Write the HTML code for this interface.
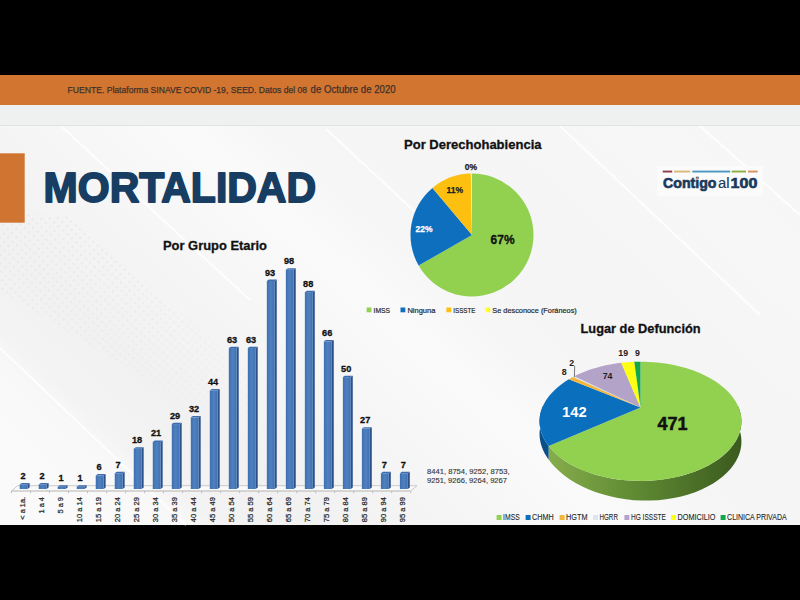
<!DOCTYPE html><html><head><meta charset="utf-8"><style>html,body{margin:0;padding:0;background:#000;width:800px;height:600px;overflow:hidden}</style></head><body><svg width="800" height="600" viewBox="0 0 800 600" style="display:block;font-family:'Liberation Sans', sans-serif">
<defs>
<linearGradient id="bg" x1="0" y1="0" x2="1" y2="1">
 <stop offset="0" stop-color="#f4f4f4"/><stop offset="1" stop-color="#f2f2f2"/>
</linearGradient>
<linearGradient id="barg" x1="0" y1="0" x2="1" y2="0">
 <stop offset="0" stop-color="#3f6fae"/><stop offset="0.5" stop-color="#4f81c0"/><stop offset="1" stop-color="#3f70b0"/>
</linearGradient>
<linearGradient id="gside" x1="0" y1="0" x2="1" y2="0">
 <stop offset="0" stop-color="#86ad4c"/><stop offset="0.45" stop-color="#5f8a33"/><stop offset="1" stop-color="#3b5a1f"/>
</linearGradient>
</defs>
<rect x="0" y="0" width="800" height="600" fill="#000"/>
<defs><linearGradient id="bgg" gradientUnits="userSpaceOnUse" x1="397.8" y1="-442.0" x2="-298.3" y2="331.5"><stop offset="0.000" stop-color="#f4f4f4"/><stop offset="0.262" stop-color="#f7f7f7"/><stop offset="0.393" stop-color="#f5f5f5"/><stop offset="0.486" stop-color="#f6f6f6"/><stop offset="0.545" stop-color="#fafafa"/><stop offset="0.657" stop-color="#f5f5f5"/><stop offset="0.743" stop-color="#f1f1f1"/><stop offset="0.807" stop-color="#f3f3f3"/><stop offset="0.829" stop-color="#f8f8f8"/><stop offset="0.893" stop-color="#fafafa"/><stop offset="1.000" stop-color="#fafafa"/></linearGradient><pattern id="dots" width="6" height="6" patternUnits="userSpaceOnUse" patternTransform="rotate(42)"><circle cx="3" cy="3" r="1.3" fill="#e4e4e4"/></pattern><linearGradient id="dfade" gradientUnits="userSpaceOnUse" x1="0" y1="230" x2="260" y2="470"><stop offset="0" stop-color="#fff" stop-opacity="0.6"/><stop offset="0.5" stop-color="#fff" stop-opacity="0.4"/><stop offset="1" stop-color="#fff" stop-opacity="0"/></linearGradient><mask id="dm"><rect x="0" y="0" width="800" height="600" fill="url(#dfade)"/></mask></defs>
<rect x="0" y="75" width="800" height="450" fill="url(#bgg)"/>
<polygon points="0,215 70,215 280,400 230,430 0,290" fill="url(#dots)" mask="url(#dm)"/>
<g stroke="#ffffff" stroke-width="2" opacity="0.85">
<line x1="62" y1="127" x2="250" y2="300"/>
<line x1="0" y1="348" x2="186" y2="525"/>
<line x1="560" y1="126" x2="760" y2="315"/>
<line x1="326" y1="129" x2="470" y2="263"/>
<line x1="700" y1="126" x2="800" y2="215"/>
</g>
<rect x="0" y="75" width="800" height="30" fill="#d27531"/>
<rect x="0" y="105" width="800" height="20" fill="#eff1f1"/>
<rect x="0" y="125" width="800" height="1" fill="#e2e3e3"/>
<text x="67.5" y="93" font-size="9.5" fill="#3e3129" font-weight="normal" text-anchor="start" textLength="239.6" lengthAdjust="spacingAndGlyphs" stroke="#3e3129" stroke-width="0.25">FUENTE. Plataforma SINAVE COVID -19, SEED. Datos del 08</text>
<text x="310.6" y="93" font-size="10.4" fill="#3e3129" font-weight="normal" text-anchor="start" textLength="85" lengthAdjust="spacingAndGlyphs" stroke="#3e3129" stroke-width="0.25">de Octubre de 2020</text>
<rect x="0" y="153.3" width="24.7" height="69.4" fill="#d07531"/>
<text x="43.6" y="202.4" font-size="43.2" fill="#173d63" font-weight="bold" text-anchor="start" textLength="272.5" lengthAdjust="spacingAndGlyphs" stroke="#173d63" stroke-width="1.8" stroke-linejoin="round">MORTALIDAD</text>
<text x="163" y="249.6" font-size="13.5" fill="#111" font-weight="bold" text-anchor="start" textLength="104" lengthAdjust="spacingAndGlyphs" stroke="#111" stroke-width="0.3">Por Grupo Etario</text>
<polygon points="11.5,491 17.5,485.7 417,485.7 410.5,491" fill="#f9f9f9"/>
<line x1="17.5" y1="485.7" x2="417" y2="485.7" stroke="#c4c4c4" stroke-width="0.9"/>
<line x1="11.5" y1="491" x2="17.5" y2="485.7" stroke="#c4c4c4" stroke-width="0.9"/>
<line x1="410.5" y1="491" x2="417" y2="485.7" stroke="#c4c4c4" stroke-width="0.9"/>
<line x1="11.5" y1="491" x2="410.5" y2="491" stroke="#b4b4b4" stroke-width="1.1"/>
<line x1="11.5" y1="491" x2="11.5" y2="493.3" stroke="#b4b4b4" stroke-width="0.8"/>
<line x1="30.5" y1="491" x2="30.5" y2="493.3" stroke="#b4b4b4" stroke-width="0.8"/>
<line x1="49.5" y1="491" x2="49.5" y2="493.3" stroke="#b4b4b4" stroke-width="0.8"/>
<line x1="68.5" y1="491" x2="68.5" y2="493.3" stroke="#b4b4b4" stroke-width="0.8"/>
<line x1="87.5" y1="491" x2="87.5" y2="493.3" stroke="#b4b4b4" stroke-width="0.8"/>
<line x1="106.6" y1="491" x2="106.6" y2="493.3" stroke="#b4b4b4" stroke-width="0.8"/>
<line x1="125.6" y1="491" x2="125.6" y2="493.3" stroke="#b4b4b4" stroke-width="0.8"/>
<line x1="144.6" y1="491" x2="144.6" y2="493.3" stroke="#b4b4b4" stroke-width="0.8"/>
<line x1="163.6" y1="491" x2="163.6" y2="493.3" stroke="#b4b4b4" stroke-width="0.8"/>
<line x1="182.6" y1="491" x2="182.6" y2="493.3" stroke="#b4b4b4" stroke-width="0.8"/>
<line x1="201.6" y1="491" x2="201.6" y2="493.3" stroke="#b4b4b4" stroke-width="0.8"/>
<line x1="220.6" y1="491" x2="220.6" y2="493.3" stroke="#b4b4b4" stroke-width="0.8"/>
<line x1="239.6" y1="491" x2="239.6" y2="493.3" stroke="#b4b4b4" stroke-width="0.8"/>
<line x1="258.6" y1="491" x2="258.6" y2="493.3" stroke="#b4b4b4" stroke-width="0.8"/>
<line x1="277.6" y1="491" x2="277.6" y2="493.3" stroke="#b4b4b4" stroke-width="0.8"/>
<line x1="296.7" y1="491" x2="296.7" y2="493.3" stroke="#b4b4b4" stroke-width="0.8"/>
<line x1="315.7" y1="491" x2="315.7" y2="493.3" stroke="#b4b4b4" stroke-width="0.8"/>
<line x1="334.7" y1="491" x2="334.7" y2="493.3" stroke="#b4b4b4" stroke-width="0.8"/>
<line x1="353.7" y1="491" x2="353.7" y2="493.3" stroke="#b4b4b4" stroke-width="0.8"/>
<line x1="372.7" y1="491" x2="372.7" y2="493.3" stroke="#b4b4b4" stroke-width="0.8"/>
<line x1="391.7" y1="491" x2="391.7" y2="493.3" stroke="#b4b4b4" stroke-width="0.8"/>
<line x1="410.7" y1="491" x2="410.7" y2="493.3" stroke="#b4b4b4" stroke-width="0.8"/>
<polygon points="27.60,484.43 29.60,483.03 29.60,487.60 27.60,489.00" fill="#2b5188"/>
<polygon points="19.70,484.43 21.70,483.03 29.60,483.03 27.60,484.43" fill="#3e6cae"/>
<rect x="19.70" y="484.43" width="7.9" height="4.57" fill="url(#barg)"/>
<text x="23.0" y="478.9" font-size="9.2" fill="#111" font-weight="bold" text-anchor="middle" stroke="#111" stroke-width="0.3">2</text>
<text transform="translate(24.8,497) rotate(-90)" font-size="8" fill="#2a2a2a" text-anchor="end" stroke="#2a2a2a" stroke-width="0.25" textLength="22.7" lengthAdjust="spacingAndGlyphs">&lt; a 1a.</text>
<polygon points="46.61,484.43 48.61,483.03 48.61,487.60 46.61,489.00" fill="#2b5188"/>
<polygon points="38.71,484.43 40.71,483.03 48.61,483.03 46.61,484.43" fill="#3e6cae"/>
<rect x="38.71" y="484.43" width="7.9" height="4.57" fill="url(#barg)"/>
<text x="42.0" y="478.9" font-size="9.2" fill="#111" font-weight="bold" text-anchor="middle" stroke="#111" stroke-width="0.3">2</text>
<text transform="translate(43.8,497) rotate(-90)" font-size="8" fill="#2a2a2a" text-anchor="end" stroke="#2a2a2a" stroke-width="0.25" textLength="16.5" lengthAdjust="spacingAndGlyphs">1 a 4</text>
<polygon points="65.62,486.66 67.62,485.26 67.62,487.60 65.62,489.00" fill="#2b5188"/>
<polygon points="57.72,486.66 59.72,485.26 67.62,485.26 65.62,486.66" fill="#3e6cae"/>
<rect x="57.72" y="486.66" width="7.9" height="2.34" fill="url(#barg)"/>
<text x="61.0" y="481.2" font-size="9.2" fill="#111" font-weight="bold" text-anchor="middle" stroke="#111" stroke-width="0.3">1</text>
<text transform="translate(62.8,497) rotate(-90)" font-size="8" fill="#2a2a2a" text-anchor="end" stroke="#2a2a2a" stroke-width="0.25" textLength="16.5" lengthAdjust="spacingAndGlyphs">5 a 9</text>
<polygon points="84.63,486.66 86.63,485.26 86.63,487.60 84.63,489.00" fill="#2b5188"/>
<polygon points="76.73,486.66 78.73,485.26 86.63,485.26 84.63,486.66" fill="#3e6cae"/>
<rect x="76.73" y="486.66" width="7.9" height="2.34" fill="url(#barg)"/>
<text x="80.0" y="481.2" font-size="9.2" fill="#111" font-weight="bold" text-anchor="middle" stroke="#111" stroke-width="0.3">1</text>
<text transform="translate(81.8,497) rotate(-90)" font-size="8" fill="#2a2a2a" text-anchor="end" stroke="#2a2a2a" stroke-width="0.25" textLength="25.2" lengthAdjust="spacingAndGlyphs">10 a 14</text>
<polygon points="103.64,475.48 105.64,474.08 105.64,487.60 103.64,489.00" fill="#2b5188"/>
<polygon points="95.74,475.48 97.74,474.08 105.64,474.08 103.64,475.48" fill="#3e6cae"/>
<rect x="95.74" y="475.48" width="7.9" height="13.52" fill="url(#barg)"/>
<text x="99.0" y="470.0" font-size="9.2" fill="#111" font-weight="bold" text-anchor="middle" stroke="#111" stroke-width="0.3">6</text>
<text transform="translate(100.8,497) rotate(-90)" font-size="8" fill="#2a2a2a" text-anchor="end" stroke="#2a2a2a" stroke-width="0.25" textLength="25.2" lengthAdjust="spacingAndGlyphs">15 a 19</text>
<polygon points="122.65,473.25 124.65,471.85 124.65,487.60 122.65,489.00" fill="#2b5188"/>
<polygon points="114.75,473.25 116.75,471.85 124.65,471.85 122.65,473.25" fill="#3e6cae"/>
<rect x="114.75" y="473.25" width="7.9" height="15.75" fill="url(#barg)"/>
<text x="118.1" y="467.7" font-size="9.2" fill="#111" font-weight="bold" text-anchor="middle" stroke="#111" stroke-width="0.3">7</text>
<text transform="translate(119.8,497) rotate(-90)" font-size="8" fill="#2a2a2a" text-anchor="end" stroke="#2a2a2a" stroke-width="0.25" textLength="25.2" lengthAdjust="spacingAndGlyphs">20 a 24</text>
<polygon points="141.66,448.65 143.66,447.25 143.66,487.60 141.66,489.00" fill="#2b5188"/>
<polygon points="133.76,448.65 135.76,447.25 143.66,447.25 141.66,448.65" fill="#3e6cae"/>
<rect x="133.76" y="448.65" width="7.9" height="40.35" fill="url(#barg)"/>
<text x="137.1" y="443.2" font-size="9.2" fill="#111" font-weight="bold" text-anchor="middle" stroke="#111" stroke-width="0.3">18</text>
<text transform="translate(138.8,497) rotate(-90)" font-size="8" fill="#2a2a2a" text-anchor="end" stroke="#2a2a2a" stroke-width="0.25" textLength="25.2" lengthAdjust="spacingAndGlyphs">25 a 29</text>
<polygon points="160.67,441.94 162.67,440.54 162.67,487.60 160.67,489.00" fill="#2b5188"/>
<polygon points="152.77,441.94 154.77,440.54 162.67,440.54 160.67,441.94" fill="#3e6cae"/>
<rect x="152.77" y="441.94" width="7.9" height="47.06" fill="url(#barg)"/>
<text x="156.1" y="436.4" font-size="9.2" fill="#111" font-weight="bold" text-anchor="middle" stroke="#111" stroke-width="0.3">21</text>
<text transform="translate(157.8,497) rotate(-90)" font-size="8" fill="#2a2a2a" text-anchor="end" stroke="#2a2a2a" stroke-width="0.25" textLength="25.2" lengthAdjust="spacingAndGlyphs">30 a 34</text>
<polygon points="179.68,424.06 181.68,422.66 181.68,487.60 179.68,489.00" fill="#2b5188"/>
<polygon points="171.78,424.06 173.78,422.66 181.68,422.66 179.68,424.06" fill="#3e6cae"/>
<rect x="171.78" y="424.06" width="7.9" height="64.94" fill="url(#barg)"/>
<text x="175.1" y="418.6" font-size="9.2" fill="#111" font-weight="bold" text-anchor="middle" stroke="#111" stroke-width="0.3">29</text>
<text transform="translate(176.8,497) rotate(-90)" font-size="8" fill="#2a2a2a" text-anchor="end" stroke="#2a2a2a" stroke-width="0.25" textLength="25.2" lengthAdjust="spacingAndGlyphs">35 a 39</text>
<polygon points="198.69,417.35 200.69,415.95 200.69,487.60 198.69,489.00" fill="#2b5188"/>
<polygon points="190.79,417.35 192.79,415.95 200.69,415.95 198.69,417.35" fill="#3e6cae"/>
<rect x="190.79" y="417.35" width="7.9" height="71.65" fill="url(#barg)"/>
<text x="194.1" y="411.8" font-size="9.2" fill="#111" font-weight="bold" text-anchor="middle" stroke="#111" stroke-width="0.3">32</text>
<text transform="translate(195.8,497) rotate(-90)" font-size="8" fill="#2a2a2a" text-anchor="end" stroke="#2a2a2a" stroke-width="0.25" textLength="25.2" lengthAdjust="spacingAndGlyphs">40 a 44</text>
<polygon points="217.70,390.52 219.70,389.12 219.70,487.60 217.70,489.00" fill="#2b5188"/>
<polygon points="209.80,390.52 211.80,389.12 219.70,389.12 217.70,390.52" fill="#3e6cae"/>
<rect x="209.80" y="390.52" width="7.9" height="98.48" fill="url(#barg)"/>
<text x="213.1" y="385.0" font-size="9.2" fill="#111" font-weight="bold" text-anchor="middle" stroke="#111" stroke-width="0.3">44</text>
<text transform="translate(214.9,497) rotate(-90)" font-size="8" fill="#2a2a2a" text-anchor="end" stroke="#2a2a2a" stroke-width="0.25" textLength="25.2" lengthAdjust="spacingAndGlyphs">45 a 49</text>
<polygon points="236.71,348.03 238.71,346.63 238.71,487.60 236.71,489.00" fill="#2b5188"/>
<polygon points="228.81,348.03 230.81,346.63 238.71,346.63 236.71,348.03" fill="#3e6cae"/>
<rect x="228.81" y="348.03" width="7.9" height="140.97" fill="url(#barg)"/>
<text x="232.1" y="342.5" font-size="9.2" fill="#111" font-weight="bold" text-anchor="middle" stroke="#111" stroke-width="0.3">63</text>
<text transform="translate(233.9,497) rotate(-90)" font-size="8" fill="#2a2a2a" text-anchor="end" stroke="#2a2a2a" stroke-width="0.25" textLength="25.2" lengthAdjust="spacingAndGlyphs">50 a 54</text>
<polygon points="255.72,348.03 257.72,346.63 257.72,487.60 255.72,489.00" fill="#2b5188"/>
<polygon points="247.82,348.03 249.82,346.63 257.72,346.63 255.72,348.03" fill="#3e6cae"/>
<rect x="247.82" y="348.03" width="7.9" height="140.97" fill="url(#barg)"/>
<text x="251.1" y="342.5" font-size="9.2" fill="#111" font-weight="bold" text-anchor="middle" stroke="#111" stroke-width="0.3">63</text>
<text transform="translate(252.9,497) rotate(-90)" font-size="8" fill="#2a2a2a" text-anchor="end" stroke="#2a2a2a" stroke-width="0.25" textLength="25.2" lengthAdjust="spacingAndGlyphs">55 a 59</text>
<polygon points="274.73,280.95 276.73,279.55 276.73,487.60 274.73,489.00" fill="#2b5188"/>
<polygon points="266.83,280.95 268.83,279.55 276.73,279.55 274.73,280.95" fill="#3e6cae"/>
<rect x="266.83" y="280.95" width="7.9" height="208.05" fill="url(#barg)"/>
<text x="270.1" y="275.5" font-size="9.2" fill="#111" font-weight="bold" text-anchor="middle" stroke="#111" stroke-width="0.3">93</text>
<text transform="translate(271.9,497) rotate(-90)" font-size="8" fill="#2a2a2a" text-anchor="end" stroke="#2a2a2a" stroke-width="0.25" textLength="25.2" lengthAdjust="spacingAndGlyphs">60 a 64</text>
<polygon points="293.74,269.77 295.74,268.37 295.74,487.60 293.74,489.00" fill="#2b5188"/>
<polygon points="285.84,269.77 287.84,268.37 295.74,268.37 293.74,269.77" fill="#3e6cae"/>
<rect x="285.84" y="269.77" width="7.9" height="219.23" fill="url(#barg)"/>
<text x="289.1" y="264.3" font-size="9.2" fill="#111" font-weight="bold" text-anchor="middle" stroke="#111" stroke-width="0.3">98</text>
<text transform="translate(290.9,497) rotate(-90)" font-size="8" fill="#2a2a2a" text-anchor="end" stroke="#2a2a2a" stroke-width="0.25" textLength="25.2" lengthAdjust="spacingAndGlyphs">65 a 69</text>
<polygon points="312.75,292.13 314.75,290.73 314.75,487.60 312.75,489.00" fill="#2b5188"/>
<polygon points="304.85,292.13 306.85,290.73 314.75,290.73 312.75,292.13" fill="#3e6cae"/>
<rect x="304.85" y="292.13" width="7.9" height="196.87" fill="url(#barg)"/>
<text x="308.2" y="286.6" font-size="9.2" fill="#111" font-weight="bold" text-anchor="middle" stroke="#111" stroke-width="0.3">88</text>
<text transform="translate(309.9,497) rotate(-90)" font-size="8" fill="#2a2a2a" text-anchor="end" stroke="#2a2a2a" stroke-width="0.25" textLength="25.2" lengthAdjust="spacingAndGlyphs">70 a 74</text>
<polygon points="331.76,341.32 333.76,339.92 333.76,487.60 331.76,489.00" fill="#2b5188"/>
<polygon points="323.86,341.32 325.86,339.92 333.76,339.92 331.76,341.32" fill="#3e6cae"/>
<rect x="323.86" y="341.32" width="7.9" height="147.68" fill="url(#barg)"/>
<text x="327.2" y="335.8" font-size="9.2" fill="#111" font-weight="bold" text-anchor="middle" stroke="#111" stroke-width="0.3">66</text>
<text transform="translate(328.9,497) rotate(-90)" font-size="8" fill="#2a2a2a" text-anchor="end" stroke="#2a2a2a" stroke-width="0.25" textLength="25.2" lengthAdjust="spacingAndGlyphs">75 a 79</text>
<polygon points="350.77,377.10 352.77,375.70 352.77,487.60 350.77,489.00" fill="#2b5188"/>
<polygon points="342.87,377.10 344.87,375.70 352.77,375.70 350.77,377.10" fill="#3e6cae"/>
<rect x="342.87" y="377.10" width="7.9" height="111.90" fill="url(#barg)"/>
<text x="346.2" y="371.6" font-size="9.2" fill="#111" font-weight="bold" text-anchor="middle" stroke="#111" stroke-width="0.3">50</text>
<text transform="translate(347.9,497) rotate(-90)" font-size="8" fill="#2a2a2a" text-anchor="end" stroke="#2a2a2a" stroke-width="0.25" textLength="25.2" lengthAdjust="spacingAndGlyphs">80 a 84</text>
<polygon points="369.78,428.53 371.78,427.13 371.78,487.60 369.78,489.00" fill="#2b5188"/>
<polygon points="361.88,428.53 363.88,427.13 371.78,427.13 369.78,428.53" fill="#3e6cae"/>
<rect x="361.88" y="428.53" width="7.9" height="60.47" fill="url(#barg)"/>
<text x="365.2" y="423.0" font-size="9.2" fill="#111" font-weight="bold" text-anchor="middle" stroke="#111" stroke-width="0.3">27</text>
<text transform="translate(366.9,497) rotate(-90)" font-size="8" fill="#2a2a2a" text-anchor="end" stroke="#2a2a2a" stroke-width="0.25" textLength="25.2" lengthAdjust="spacingAndGlyphs">85 a 89</text>
<polygon points="388.79,473.25 390.79,471.85 390.79,487.60 388.79,489.00" fill="#2b5188"/>
<polygon points="380.89,473.25 382.89,471.85 390.79,471.85 388.79,473.25" fill="#3e6cae"/>
<rect x="380.89" y="473.25" width="7.9" height="15.75" fill="url(#barg)"/>
<text x="384.2" y="467.7" font-size="9.2" fill="#111" font-weight="bold" text-anchor="middle" stroke="#111" stroke-width="0.3">7</text>
<text transform="translate(385.9,497) rotate(-90)" font-size="8" fill="#2a2a2a" text-anchor="end" stroke="#2a2a2a" stroke-width="0.25" textLength="25.2" lengthAdjust="spacingAndGlyphs">90 a 94</text>
<polygon points="407.80,473.25 409.80,471.85 409.80,487.60 407.80,489.00" fill="#2b5188"/>
<polygon points="399.90,473.25 401.90,471.85 409.80,471.85 407.80,473.25" fill="#3e6cae"/>
<rect x="399.90" y="473.25" width="7.9" height="15.75" fill="url(#barg)"/>
<text x="403.2" y="467.7" font-size="9.2" fill="#111" font-weight="bold" text-anchor="middle" stroke="#111" stroke-width="0.3">7</text>
<text transform="translate(405.0,497) rotate(-90)" font-size="8" fill="#2a2a2a" text-anchor="end" stroke="#2a2a2a" stroke-width="0.25" textLength="25.2" lengthAdjust="spacingAndGlyphs">95 a 99</text>
<text x="427" y="473.7" font-size="8" fill="#3a3a3a" font-weight="normal" text-anchor="start" textLength="82.5" lengthAdjust="spacingAndGlyphs" stroke="#3a3a3a" stroke-width="0.15">8441, 8754, 9252, 8753,</text>
<text x="427" y="483" font-size="8" fill="#3a3a3a" font-weight="normal" text-anchor="start" textLength="80" lengthAdjust="spacingAndGlyphs" stroke="#3a3a3a" stroke-width="0.15">9251, 9266, 9264, 9267</text>
<text x="404" y="149" font-size="13.5" fill="#111" font-weight="bold" text-anchor="start" textLength="137.5" lengthAdjust="spacingAndGlyphs" stroke="#111" stroke-width="0.3">Por Derechohabiencia</text>
<path d="M472,235 L472.00,173.50 A61.5,61.5 0 1 1 418.63,265.56 Z" fill="#92d050"/>
<path d="M472,235 L418.63,265.56 A61.5,61.5 0 0 1 432.47,187.89 Z" fill="#0d6fbe"/>
<path d="M472,235 L432.47,187.89 A61.5,61.5 0 0 1 470.82,173.51 Z" fill="#fdbf10"/>
<path d="M472,235 L470.82,173.51 A61.5,61.5 0 0 1 472.00,173.50 Z" fill="#ffff30"/>
<text x="471" y="170" font-size="8.5" fill="#222" font-weight="bold" text-anchor="middle" stroke="#222" stroke-width="0.25">0%</text>
<text x="454.7" y="192.7" font-size="8.5" fill="#222" font-weight="bold" text-anchor="middle" stroke="#222" stroke-width="0.25">11%</text>
<text x="424" y="231.7" font-size="8.5" fill="#fff" font-weight="bold" text-anchor="middle" stroke="#fff" stroke-width="0.25">22%</text>
<text x="502.6" y="244.3" font-size="12" fill="#111" font-weight="bold" text-anchor="middle" stroke="#111" stroke-width="0.3">67%</text>
<rect x="366.6" y="307.5" width="4.8" height="4.8" fill="#92d050"/>
<text x="373.5" y="312.5" font-size="7.8" fill="#262626" font-weight="normal" text-anchor="start" textLength="16.5" lengthAdjust="spacingAndGlyphs" stroke="#262626" stroke-width="0.2">IMSS</text>
<rect x="400.5" y="307.5" width="4.8" height="4.8" fill="#0d6fbe"/>
<text x="407.4" y="312.5" font-size="7.8" fill="#262626" font-weight="normal" text-anchor="start" textLength="28" lengthAdjust="spacingAndGlyphs" stroke="#262626" stroke-width="0.2">Ninguna</text>
<rect x="446.4" y="307.5" width="4.8" height="4.8" fill="#fdbf10"/>
<text x="453.29999999999995" y="312.5" font-size="7.8" fill="#262626" font-weight="normal" text-anchor="start" textLength="22" lengthAdjust="spacingAndGlyphs" stroke="#262626" stroke-width="0.2">ISSSTE</text>
<rect x="485.4" y="307.5" width="4.8" height="4.8" fill="#ffff30"/>
<text x="492.29999999999995" y="312.5" font-size="7.8" fill="#262626" font-weight="normal" text-anchor="start" textLength="84.5" lengthAdjust="spacingAndGlyphs" stroke="#262626" stroke-width="0.2">Se desconoce (Foráneos)</text>
<rect x="657" y="166" width="106" height="30" fill="#fbfbfb"/>
<rect x="662.7" y="170.6" width="9.5" height="1.9" fill="#8f3d4e"/>
<rect x="674" y="170.6" width="16.2" height="1.9" fill="#dcba78"/>
<rect x="692.3" y="170.6" width="37.9" height="1.9" fill="#4d98c0"/>
<rect x="731.7" y="170.6" width="14.3" height="1.9" fill="#8fb040"/>
<rect x="748" y="170.6" width="9.7" height="1.9" fill="#d9905a"/>
<text x="663" y="188.4" font-size="15.4" fill="#1a3a5c" font-weight="bold" text-anchor="start" textLength="53.5" lengthAdjust="spacingAndGlyphs" stroke="#1a3a5c" stroke-width="0.7">Contigo</text>
<text x="718" y="188.4" font-size="15.4" fill="#1a3a5c" font-weight="normal" text-anchor="start" textLength="11.5" lengthAdjust="spacingAndGlyphs" stroke="#1a3a5c" stroke-width="0.2">al</text>
<circle cx="697.3" cy="178.4" r="1.2" fill="#d98a50"/>
<text x="730.6" y="188.4" font-size="15.4" fill="#1a3a5c" font-weight="bold" text-anchor="start" textLength="26.8" lengthAdjust="spacingAndGlyphs" stroke="#1a3a5c" stroke-width="0.7">100</text>
<text x="580.5" y="332.7" font-size="13.5" fill="#111" font-weight="bold" text-anchor="start" textLength="120.2" lengthAdjust="spacingAndGlyphs" stroke="#111" stroke-width="0.3">Lugar de Defunción</text>
<polygon points="738.04,405.95 739.46,409.54 740.52,413.22 741.19,417.00 741.45,420.84 741.29,424.75 740.68,428.71 739.60,432.69 738.05,436.67 736.01,440.65 733.46,444.58 730.40,448.45 726.83,452.23 722.75,455.89 718.17,459.41 713.09,462.75 707.54,465.90 701.54,468.81 695.12,471.46 688.31,473.83 681.16,475.89 673.71,477.62 666.01,479.00 658.12,480.02 650.10,480.67 642.00,480.93 633.89,480.81 625.83,480.30 617.88,479.42 610.11,478.17 602.56,476.57 595.29,474.63 588.35,472.37 581.78,469.82 575.62,467.00 569.90,463.94 564.65,460.67 559.88,457.21 555.62,453.60 551.86,449.86 548.61,446.02 548.61,459.62 551.86,463.75 555.62,467.83 559.88,471.82 564.65,475.68 569.90,479.39 575.62,482.90 581.78,486.18 588.35,489.19 595.29,491.92 602.56,494.31 610.11,496.36 617.88,498.02 625.83,499.29 633.89,500.15 642.00,500.59 650.10,500.60 658.12,500.18 666.01,499.36 673.71,498.12 681.16,496.50 688.31,494.51 695.12,492.19 701.54,489.55 707.54,486.62 713.09,483.45 718.17,480.07 722.75,476.50 726.83,472.78 730.40,468.94 733.46,465.01 736.01,461.03 738.05,457.01 739.60,452.99 740.68,448.98 741.29,445.01 741.45,441.10 741.19,437.26 740.52,433.50 739.46,429.84 738.04,426.29" fill="url(#gside)"/>
<polygon points="548.61,446.02 547.85,445.01 547.13,444.00 546.44,442.98 545.79,441.96 545.16,440.94 544.58,439.91 544.02,438.88 543.50,437.85 543.01,436.82 542.56,435.79 542.14,434.75 541.75,433.72 541.39,432.69 541.07,431.65 540.78,430.62 540.52,429.59 540.29,428.56 540.09,427.53 539.93,426.51 539.79,425.48 539.68,424.46 539.61,423.44 539.56,422.43 539.55,421.42 539.56,420.41 539.60,419.41 539.67,418.41 539.76,417.42 539.89,416.43 540.04,415.45 540.22,414.47 540.42,413.50 540.65,412.53 540.91,411.57 541.19,410.62 541.50,409.67 541.83,408.73 542.18,407.80 542.56,406.87 542.96,405.95 542.96,419.01 542.56,419.89 542.18,420.78 541.83,421.68 541.50,422.59 541.19,423.51 540.91,424.43 540.65,425.37 540.42,426.31 540.22,427.26 540.04,428.22 539.89,429.19 539.76,430.17 539.67,431.15 539.60,432.14 539.56,433.14 539.55,434.14 539.56,435.16 539.61,436.18 539.68,437.20 539.79,438.23 539.93,439.27 540.09,440.31 540.29,441.36 540.52,442.41 540.78,443.47 541.07,444.53 541.39,445.59 541.75,446.66 542.14,447.73 542.56,448.81 543.01,449.89 543.50,450.96 544.02,452.04 544.58,453.13 545.16,454.21 545.79,455.29 546.44,456.37 547.13,457.46 547.85,458.54 548.61,459.62" fill="#0b4f88"/>
<path d="M640.5,407.5 L640.50,361.72 L644.72,361.77 L648.94,361.93 L653.15,362.19 L657.35,362.56 L661.52,363.03 L665.67,363.60 L669.78,364.28 L673.86,365.07 L677.89,365.96 L681.87,366.96 L685.80,368.06 L689.67,369.27 L693.46,370.58 L697.18,372.00 L700.82,373.53 L704.36,375.16 L707.80,376.90 L711.14,378.74 L714.36,380.69 L717.45,382.75 L720.41,384.90 L723.22,387.16 L725.87,389.52 L728.36,391.97 L730.67,394.52 L732.79,397.17 L734.71,399.90 L736.41,402.72 L737.89,405.63 L739.13,408.61 L740.12,411.66 L740.84,414.78 L741.29,417.95 L741.45,421.17 L741.32,424.44 L740.87,427.74 L740.10,431.06 L739.00,434.39 L737.57,437.71 L735.78,441.03 L733.65,444.31 L731.16,447.55 L728.31,450.74 L725.11,453.85 L721.55,456.87 L717.64,459.78 L713.40,462.57 L708.81,465.22 L703.91,467.71 L698.71,470.03 L693.23,472.16 L687.48,474.09 L681.50,475.80 L675.30,477.28 L668.93,478.53 L662.40,479.52 L655.76,480.25 L649.04,480.72 L642.28,480.93 L635.50,480.86 L628.75,480.53 L622.07,479.94 L615.48,479.08 L609.02,477.97 L602.73,476.61 L596.63,475.02 L590.76,473.20 L585.13,471.17 L579.78,468.95 L574.72,466.55 L569.97,463.98 L565.54,461.26 L561.45,458.41 L557.71,455.44 L554.32,452.38 L551.29,449.23 L548.61,446.02 Z" fill="#92d050"/>
<path d="M640.5,407.5 L548.61,446.02 L546.27,442.72 L544.29,439.39 L542.67,436.04 L541.39,432.68 L540.46,429.32 L539.85,425.98 L539.57,422.67 L539.60,419.39 L539.92,416.17 L540.54,413.00 L541.42,409.89 L542.57,406.85 L543.96,403.89 L545.59,401.00 L547.45,398.21 L549.51,395.51 L551.77,392.89 L554.22,390.38 L556.84,387.97 L559.62,385.65 L562.56,383.44 L565.64,381.34 L568.85,379.34 Z" fill="#0a6fbd"/>
<path d="M640.5,407.5 L568.85,379.34 L569.92,378.71 L570.99,378.10 L572.09,377.50 L573.19,376.90 Z" fill="#f2b63a"/>
<path d="M640.5,407.5 L573.19,376.90 L573.47,376.76 L573.74,376.61 L574.02,376.47 L574.30,376.32 Z" fill="#dde6f0"/>
<path d="M640.5,407.5 L574.30,376.32 L577.81,374.61 L581.41,373.00 L585.11,371.49 L588.89,370.10 L592.74,368.81 L596.66,367.63 L600.64,366.56 L604.68,365.60 L608.76,364.74 L612.89,363.99 L617.05,363.35 L621.24,362.82 Z" fill="#b3a3c9"/>
<path d="M640.5,407.5 L621.24,362.82 L624.49,362.48 L627.74,362.20 L631.01,361.98 L634.29,361.83 Z" fill="#ffff10"/>
<path d="M640.5,407.5 L634.29,361.83 L635.84,361.78 L637.39,361.75 L638.95,361.73 L640.50,361.72 Z" fill="#10a84a"/>
<text x="574.3" y="416.7" font-size="15" fill="#fff" font-weight="bold" text-anchor="middle" textLength="24.6" lengthAdjust="spacingAndGlyphs" >142</text>
<text x="672.5" y="430" font-size="18" fill="#111" font-weight="bold" text-anchor="middle" textLength="30" lengthAdjust="spacingAndGlyphs" stroke="#111" stroke-width="0.5">471</text>
<text x="607.6" y="378.8" font-size="8.8" fill="#222" font-weight="bold" text-anchor="middle" >74</text>
<text x="564.1" y="375.4" font-size="8.8" fill="#222" font-weight="bold" text-anchor="middle" >8</text>
<text x="571.8" y="365.5" font-size="8.8" fill="#222" font-weight="bold" text-anchor="middle" >2</text>
<line x1="574.7" y1="365.8" x2="574.4" y2="377" stroke="#555" stroke-width="0.8"/>
<text x="623.2" y="355.8" font-size="8.8" fill="#222" font-weight="bold" text-anchor="middle" >19</text>
<text x="637.4" y="355.8" font-size="8.8" fill="#222" font-weight="bold" text-anchor="middle" >9</text>
<rect x="496.6" y="515" width="5" height="5" fill="#92d050"/>
<text x="503.1" y="520.2" font-size="8.2" fill="#262626" font-weight="normal" text-anchor="start" textLength="16.6" lengthAdjust="spacingAndGlyphs" stroke="#262626" stroke-width="0.1">IMSS</text>
<rect x="525.6" y="515" width="5" height="5" fill="#0a6fbd"/>
<text x="532.1" y="520.2" font-size="8.2" fill="#262626" font-weight="normal" text-anchor="start" textLength="21.6" lengthAdjust="spacingAndGlyphs" stroke="#262626" stroke-width="0.1">CHMH</text>
<rect x="559.6" y="515" width="5" height="5" fill="#f2b63a"/>
<text x="566.1" y="520.2" font-size="8.2" fill="#262626" font-weight="normal" text-anchor="start" textLength="21.4" lengthAdjust="spacingAndGlyphs" stroke="#262626" stroke-width="0.1">HGTM</text>
<rect x="593" y="515" width="5" height="5" fill="#dde6f0"/>
<text x="599.5" y="520.2" font-size="8.2" fill="#262626" font-weight="normal" text-anchor="start" textLength="18.4" lengthAdjust="spacingAndGlyphs" stroke="#262626" stroke-width="0.1">HGRR</text>
<rect x="624.4" y="515" width="5" height="5" fill="#b3a3c9"/>
<text x="630.9" y="520.2" font-size="8.2" fill="#262626" font-weight="normal" text-anchor="start" textLength="35" lengthAdjust="spacingAndGlyphs" stroke="#262626" stroke-width="0.1">HG ISSSTE</text>
<rect x="671" y="515" width="5" height="5" fill="#ffff10"/>
<text x="677.5" y="520.2" font-size="8.2" fill="#262626" font-weight="normal" text-anchor="start" textLength="38" lengthAdjust="spacingAndGlyphs" stroke="#262626" stroke-width="0.1">DOMICILIO</text>
<rect x="720.6" y="515" width="5" height="5" fill="#10a84a"/>
<text x="727.1" y="520.2" font-size="8.2" fill="#262626" font-weight="normal" text-anchor="start" textLength="59.6" lengthAdjust="spacingAndGlyphs" stroke="#262626" stroke-width="0.1">CLINICA PRIVADA</text>
</svg></body></html>
